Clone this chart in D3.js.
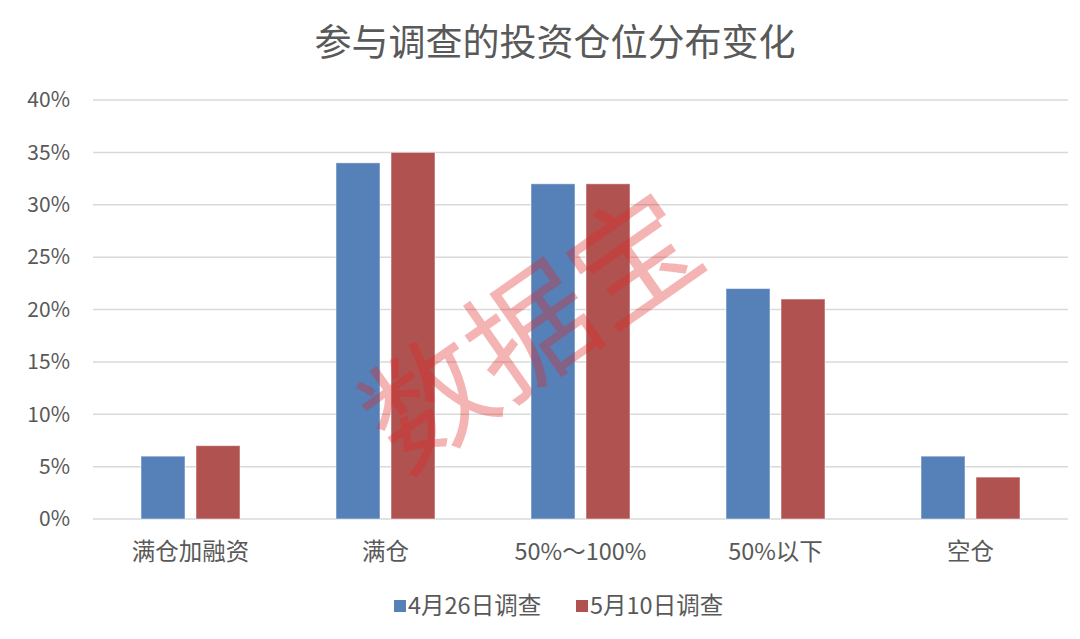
<!DOCTYPE html>
<html><head><meta charset="utf-8">
<script src="https://cdn.jsdelivr.net/npm/d3@7"></script>
<style>body{margin:0;background:#fff;}svg{display:block;font-family:"Noto Sans CJK SC","Noto Sans",sans-serif;}</style>
</head><body>
<svg id="c" width="1080" height="639"></svg>
<script>
const categories = ["满仓加融资","满仓","50%～100%","50%以下","空仓"];
const seriesNames = ["4月26日调查","5月10日调查"];
const apr26 = [0.06,0.34,0.32,0.22,0.06];
const may10 = [0.07,0.35,0.32,0.21,0.04];
const yTicks = [0,0.05,0.10,0.15,0.20,0.25,0.30,0.35,0.40];
const colors = ["#5680b8","#b0524f"];

(function(){
const svg = d3.select("#c");
const pL = 93, pR = 1068, pT = 100, pB = 519;
const x = d3.scaleBand().domain(categories).range([pL,pR]);
const xs = d3.scaleBand().domain([0,1]).range([0,99]).paddingInner(0.2);
const y = d3.scaleLinear().domain([0,0.40]).range([pB,pT]);

svg.append("text").attr("x",555).attr("y",56).attr("text-anchor","middle")
  .attr("font-size",37).attr("fill","#595959").text("参与调查的投资仓位分布变化");

const gy = svg.append("g");
yTicks.forEach(t=>{
  gy.append("line").attr("x1",pL).attr("x2",pR).attr("y1",y(t)).attr("y2",y(t))
    .attr("stroke","#d9d9d9").attr("stroke-width",1.5);
  gy.append("text").attr("x",70).attr("y",y(t)).attr("dy","0.35em").attr("text-anchor","end")
    .attr("font-size",21).attr("fill","#595959").text(d3.format(".0%")(t));
});

const data = [apr26, may10];
data.forEach((arr,si)=>{
  svg.append("g").selectAll("rect").data(arr).join("rect")
    .attr("x",(d,i)=>x(categories[i])+x.bandwidth()/2-49.5+xs(si))
    .attr("width",xs.bandwidth())
    .attr("y",d=>y(d)).attr("height",d=>pB-y(d))
    .attr("fill",colors[si]).attr("stroke","#ffffff").attr("stroke-opacity",0.5).attr("stroke-width",1);
});

svg.append("g").selectAll("text").data(categories).join("text")
  .attr("x",d=>x(d)+x.bandwidth()/2).attr("y",552).attr("dy","0.35em").attr("text-anchor","middle")
  .attr("font-size",23.5).attr("fill","#595959").text(d=>d);

const lg = svg.append("g");
const legX = [394, 576];
seriesNames.forEach((n,i)=>{
  lg.append("rect").attr("x",legX[i]).attr("y",600).attr("width",12).attr("height",12).attr("fill",colors[i]);
  lg.append("text").attr("x",legX[i]+14).attr("y",606).attr("dy","0.35em")
    .attr("font-size",23.5).attr("fill","#595959").text(n);
});

svg.append("text").attr("transform","translate(532,332) rotate(-35)")
  .attr("text-anchor","middle").attr("dy","0.35em")
  .attr("font-size",125).attr("fill","#e02828").attr("fill-opacity",0.35).text("数据宝");
})();
</script>
</body></html>
